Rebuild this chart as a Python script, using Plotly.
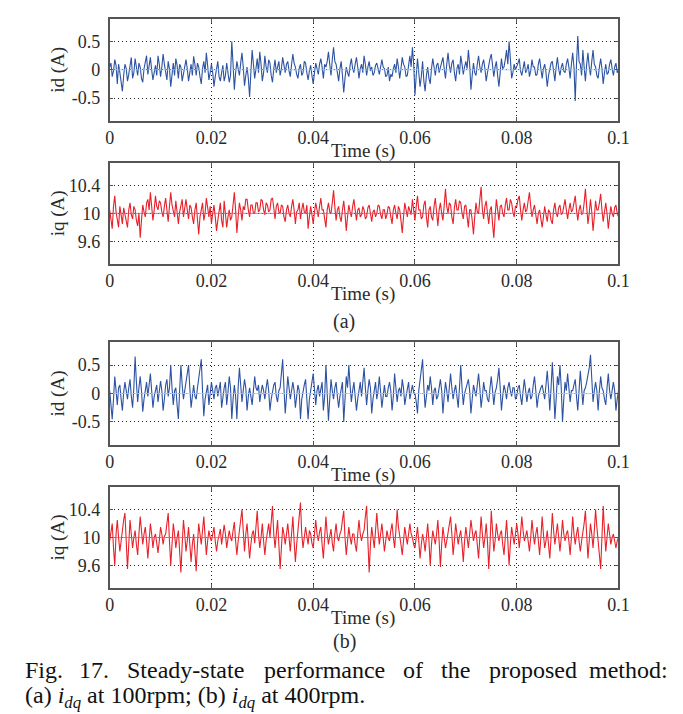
import plotly.graph_objects as go

W, H = 683, 714

# ---------------- data ----------------
sample_step = 0.00025
n_samples = 401
time_s = [round(i * sample_step, 5) for i in range(n_samples)]

x_tick_vals = [0, 0.02, 0.04, 0.06, 0.08, 0.1]
x_tick_text = ["0", "0.02", "0.04", "0.06", "0.08", "0.1"]
id_tick_vals = [-0.5, 0, 0.5]
id_tick_text = ["-0.5", "0", "0.5"]
iq_tick_vals = [9.6, 10, 10.4]
iq_tick_text = ["9.6", "10", "10.4"]

ref_time = [0, 0.1]
id_ref = [0, 0]
iq_ref = [10, 10]

id_100rpm = [
    0.05, 0.12, -0.12, -0.02, 0.18, 0.08, -0.25, 0.1, -0.05, -0.18, -0.38, -0.1, 0.1, 0.02, -0.2, -0.08, 0.12, 0.22, -0.15, -0.05,
    0.2, 0.05, -0.1, 0.12, 0.05, -0.15, -0.22, 0.02, 0.15, 0.25, -0.08, 0.1, 0.22, 0.0, -0.18, -0.05, 0.08, -0.1, 0.25, 0.1,
    -0.12, 0.05, 0.28, 0.1, -0.05, -0.18, 0.15, 0.02, -0.3, -0.05, 0.12, -0.1, 0.2, 0.08, -0.15, 0.1, 0.05, -0.2, -0.08, 0.1,
    0.18, 0.02, -0.2, -0.05, 0.1, -0.1, 0.24, 0.1, -0.1, 0.12, 0.05, -0.12, -0.25, 0.02, 0.15, -0.05, 0.3, 0.08, -0.18, -0.05,
    0.1, -0.05, -0.3, -0.12, 0.05, 0.15, -0.12, -0.2, -0.05, 0.08, -0.2, -0.1, 0.12, -0.05, -0.22, -0.1, 0.5, 0.1, -0.35, -0.05,
    0.15, 0.02, -0.1, 0.12, 0.3, 0.05, -0.28, -0.1, 0.05, -0.15, -0.48, -0.05, 0.35, 0.1, -0.15, 0.02, 0.2, -0.05, 0.32, 0.1,
    -0.2, -0.05, 0.25, 0.05, -0.05, 0.18, 0.12, -0.1, -0.22, 0.02, 0.18, -0.05, 0.05, 0.15, -0.1, 0.02, 0.22, 0.08, -0.05, 0.1,
    0.15, -0.02, -0.12, 0.1, 0.28, 0.12, 0.05, -0.08, -0.15, 0.02, 0.1, -0.1, -0.05, 0.15, 0.12, -0.05, -0.18, -0.02, 0.08, -0.1,
    -0.25, -0.05, 0.12, 0.02, -0.08, 0.1, 0.2, 0.05, -0.15, 0.1, 0.05, 0.15, 0.32, 0.1, -0.1, 0.18, 0.4, 0.15, 0.1, -0.05,
    -0.2, 0.02, 0.15, -0.1, -0.4, -0.15, 0.05, -0.05, -0.12, 0.08, 0.2, 0.02, -0.05, 0.1, 0.22, 0.05, -0.15, 0.02, 0.1, -0.05,
    0.25, 0.1, -0.1, 0.05, 0.15, -0.02, 0.05, -0.1, -0.05, 0.08, 0.12, 0.02, -0.08, 0.05, 0.18, 0.05, 0.02, -0.12, -0.1, 0.05,
    -0.2, -0.08, -0.12, 0.02, 0.1, -0.05, 0.2, 0.05, -0.15, 0.02, 0.22, 0.1, 0.05, -0.12, -0.1, 0.08, 0.25, 0.05, 0.4, 0.1,
    -0.45, -0.1, 0.2, -0.05, -0.3, -0.12, 0.15, -0.2, -0.38, -0.1, 0.05, -0.15, -0.25, 0.02, 0.2, 0.05, -0.1, 0.08, 0.12, -0.05,
    0.05, 0.15, 0.22, 0.02, -0.15, 0.1, 0.3, 0.08, -0.05, 0.12, 0.18, -0.05, -0.2, 0.02, 0.1, -0.08, 0.25, 0.1, -0.08, 0.05,
    0.15, 0.02, 0.35, 0.1, -0.35, -0.1, 0.12, -0.05, -0.1, 0.1, 0.25, 0.05, -0.05, 0.1, 0.18, 0.02, -0.2, -0.05, 0.1, 0.2,
    0.28, 0.05, -0.12, 0.05, 0.15, -0.1, -0.3, -0.05, 0.2, 0.02, 0.05, 0.18, 0.35, 0.1, 0.5, 0.2, -0.15, -0.05, 0.1, 0.0,
    0.05, 0.12, 0.2, -0.02, -0.1, 0.05, 0.15, -0.05, 0.0, 0.1, -0.12, -0.02, 0.18, 0.05, 0.05, -0.1, -0.08, 0.1, 0.2, 0.02,
    -0.15, 0.02, 0.1, -0.05, -0.3, -0.1, 0.05, 0.12, 0.15, -0.05, -0.2, 0.05, 0.22, 0.02, -0.1, 0.05, 0.12, -0.02, -0.05, 0.1,
    0.2, 0.05, -0.15, 0.1, 0.3, 0.05, -0.55, 0.1, 0.6, 0.15, 0.1, -0.1, 0.35, 0.05, -0.2, 0.1, 0.3, 0.05, -0.1, 0.15,
    0.35, 0.1, 0.05, -0.1, -0.15, 0.05, 0.2, 0.02, -0.25, -0.05, 0.1, -0.08, -0.05, 0.1, 0.18, 0.02, -0.1, 0.05, 0.12, -0.05,
    0.0,
]

iq_100rpm = [
    10.05, 9.92, 9.78, 10.1, 10.25, 10.02, 9.9, 9.8, 10.1, 9.95, 9.85, 10.08, 10.0, 9.88, 9.8, 10.05, 10.15, 9.98, 9.92, 10.1,
    10.05, 9.9, 9.82, 10.0, 9.65, 9.9, 10.12, 10.02, 9.95, 10.15, 10.2, 10.05, 10.3, 10.1, 9.9, 10.05, 10.25, 10.1, 10.05, 10.18,
    10.15, 10.02, 9.95, 10.1, 10.22, 10.05, 9.88, 10.1, 10.3, 10.12, 10.05, 9.95, 10.18, 10.05, 9.85, 10.02, 10.1, 10.2, 9.95, 10.1,
    10.2, 10.05, 9.92, 10.12, 10.08, 9.95, 9.85, 10.05, 10.15, 9.92, 9.7, 9.95, 10.05, 10.15, 9.9, 10.0, 10.22, 10.08, 9.95, 10.1,
    9.85, 10.0, 10.12, 9.95, 9.75, 9.9, 10.05, 10.15, 9.9, 9.8, 10.18, 10.02, 9.8, 9.95, 10.05, 9.9, 9.95, 10.12, 10.3, 10.05,
    9.72, 9.95, 10.15, 10.05, 9.9, 10.1, 10.05, 10.2, 10.2, 10.05, 9.95, 10.12, 10.12, 10.0, 10.0, 10.15, 10.15, 10.02, 10.05, 10.2,
    10.18, 10.05, 9.98, 10.15, 10.12, 10.02, 10.05, 10.2, 10.22, 10.08, 9.92, 10.1, 10.15, 10.02, 10.0, 10.12, 10.1, 9.95, 9.88, 10.05,
    10.12, 10.0, 9.95, 10.1, 10.2, 10.05, 9.85, 10.02, 10.05, 10.15, 9.92, 10.05, 10.15, 10.02, 10.0, 10.12, 9.78, 9.95, 10.1, 9.98,
    9.85, 10.02, 10.15, 10.05, 9.95, 10.1, 10.22, 10.05, 10.05, 9.92, 9.8, 10.05, 10.15, 10.02, 10.0, 10.15, 10.33, 10.1, 9.9, 10.05,
    10.1, 9.95, 9.88, 10.05, 10.18, 10.0, 9.75, 9.95, 10.12, 10.02, 9.95, 10.1, 10.2, 10.05, 9.9, 10.05, 10.08, 9.95, 9.98, 10.1,
    10.05, 9.92, 9.95, 10.08, 10.12, 10.0, 9.88, 10.02, 10.05, 9.95, 10.0, 10.12, 10.1, 9.98, 9.92, 10.05, 10.05, 9.92, 9.98, 10.1,
    10.08, 9.95, 9.85, 10.05, 10.12, 10.0, 9.92, 10.1, 10.05, 9.9, 9.72, 9.95, 10.15, 10.05, 9.95, 10.1, 10.05, 9.98, 10.2, 10.05,
    9.9, 10.1, 10.25, 10.05, 10.05, 9.92, 9.95, 10.12, 10.18, 9.95, 9.8, 10.05, 10.1, 9.95, 9.9, 10.1, 10.22, 10.02, 9.82, 10.05,
    10.15, 10.0, 9.9, 10.12, 10.35, 10.1, 10.0, 10.15, 10.12, 9.95, 9.85, 10.08, 10.2, 10.05, 10.05, 10.18, 10.15, 10.0, 9.92, 10.1,
    10.12, 9.95, 9.8, 10.05, 10.05, 9.9, 9.7, 9.95, 10.15, 10.02, 10.0, 10.2, 10.38, 10.05, 9.92, 10.1, 10.18, 10.0, 9.85, 10.05,
    10.1, 9.85, 9.65, 9.95, 10.2, 10.05, 9.9, 10.1, 10.12, 10.0, 9.95, 10.12, 10.22, 10.05, 10.05, 10.2, 10.15, 10.02, 9.95, 10.1,
    10.1, 10.2, 10.25, 10.05, 9.9, 10.05, 10.15, 10.02, 10.05, 10.18, 10.3, 10.1, 9.95, 10.05, 10.12, 9.98, 9.85, 10.0, 10.05, 9.92,
    9.8, 9.95, 10.1, 9.98, 9.88, 10.05, 10.02, 9.9, 9.85, 10.05, 10.15, 10.0, 9.95, 10.08, 10.12, 9.98, 10.0, 10.1, 10.2, 10.05,
    9.92, 10.05, 10.15, 10.02, 10.05, 10.15, 10.25, 10.05, 9.9, 10.05, 10.12, 9.98, 10.0, 10.15, 10.35, 10.1, 9.85, 10.0, 10.2, 10.02,
    9.75, 9.95, 10.18, 10.05, 10.05, 10.15, 10.28, 10.05, 9.88, 10.02, 10.15, 10.0, 9.78, 9.95, 10.1, 10.0, 9.95, 10.08, 10.12, 10.0,
    9.95,
]

id_400rpm = [
    0.05, -0.2, -0.45, -0.1, 0.3, 0.05, -0.2, 0.1, 0.15, -0.1, -0.3, 0.02, 0.2, 0.05, -0.1, 0.1, 0.25, -0.05, -0.25, 0.1,
    0.65, 0.2, -0.15, 0.1, 0.3, 0.05, -0.32, -0.1, 0.1, 0.2, -0.05, 0.15, 0.35, 0.05, -0.25, -0.05, 0.05, 0.15, -0.15, 0.02,
    0.22, 0.05, -0.3, -0.1, 0.15, 0.25, -0.05, 0.1, 0.5, 0.1, -0.2, 0.05, 0.1, -0.2, -0.45, 0.05, 0.5, 0.15, -0.1, 0.05,
    0.2, 0.35, 0.5, 0.1, -0.25, -0.05, 0.15, -0.05, -0.1, 0.1, 0.3, 0.45, 0.6, 0.05, -0.4, -0.1, 0.05, 0.15, -0.2, 0.0,
    0.2, 0.05, -0.1, 0.1, 0.15, -0.05, 0.05, 0.2, -0.25, -0.05, 0.1, 0.2, -0.2, 0.02, 0.3, 0.1, -0.45, -0.1, 0.15, -0.05,
    -0.45, 0.1, 0.45, 0.15, -0.15, 0.05, 0.25, 0.1, -0.3, -0.05, 0.1, -0.05, -0.2, 0.05, 0.3, 0.1, 0.05, 0.15, -0.15, 0.02,
    0.15, 0.05, -0.1, 0.1, 0.25, 0.05, -0.3, -0.1, 0.05, 0.15, 0.2, -0.05, -0.15, 0.05, 0.1, 0.3, 0.6, 0.1, -0.35, -0.05,
    0.3, 0.1, -0.1, 0.05, 0.2, 0.05, -0.25, -0.05, 0.15, 0.05, -0.45, -0.1, 0.05, 0.15, 0.25, -0.05, -0.45, -0.1, 0.1, 0.2,
    0.35, 0.05, -0.2, 0.05, 0.15, -0.05, 0.05, 0.2, -0.3, -0.05, 0.5, 0.1, -0.48, -0.1, 0.25, 0.05, -0.1, 0.1, 0.2, -0.05,
    -0.25, -0.05, 0.1, 0.2, -0.5, -0.1, 0.3, 0.1, 0.5, 0.15, -0.15, 0.05, 0.2, -0.05, -0.3, -0.1, 0.1, 0.2, -0.05, 0.15,
    0.45, 0.1, -0.2, 0.05, 0.25, 0.1, -0.35, -0.1, 0.1, 0.2, -0.1, 0.05, 0.3, 0.05, -0.25, -0.05, 0.15, -0.05, -0.05, 0.1,
    0.2, 0.05, -0.3, -0.05, 0.35, 0.1, -0.15, 0.05, 0.1, -0.05, 0.25, 0.1, -0.2, -0.05, 0.05, 0.2, -0.1, 0.05, 0.15, 0.02,
    0.0, -0.15, -0.35, 0.05, 0.25, 0.4, 0.6, 0.1, -0.25, -0.05, 0.15, 0.05, 0.3, 0.1, -0.2, 0.05, 0.1, -0.1, -0.05, 0.1,
    0.25, 0.05, -0.35, -0.05, 0.2, 0.05, -0.15, 0.1, 0.35, 0.1, -0.1, 0.05, 0.15, -0.05, -0.25, 0.1, 0.5, 0.1, -0.2, 0.0,
    0.1, 0.2, 0.25, 0.05, -0.35, -0.1, 0.15, 0.05, -0.05, 0.15, 0.35, 0.1, -0.25, -0.05, 0.2, 0.05, 0.05, -0.1, -0.15, 0.1,
    0.3, 0.05, -0.2, 0.02, 0.1, 0.25, 0.45, 0.1, -0.3, -0.05, 0.15, 0.05, -0.1, 0.1, 0.2, 0.05, -0.05, 0.1, 0.1, -0.1,
    -0.05, 0.1, 0.15, -0.05, -0.2, 0.05, 0.25, 0.05, -0.15, 0.02, 0.1, -0.1, -0.05, 0.15, 0.3, 0.05, -0.25, -0.05, 0.05, 0.1,
    0.15, 0.02, -0.1, 0.15, 0.4, 0.1, -0.3, 0.1, 0.55, 0.1, -0.45, -0.1, 0.3, 0.15, 0.5, 0.1, -0.5, -0.1, 0.2, 0.05,
    0.35, 0.1, -0.15, 0.05, 0.05, 0.15, 0.25, -0.05, -0.3, 0.05, 0.4, 0.1, -0.2, 0.05, 0.1, 0.2, 0.3, 0.45, 0.68, 0.1,
    -0.15, 0.05, 0.2, 0.05, -0.3, 0.05, 0.3, 0.1, 0.05, -0.1, -0.2, 0.1, 0.35, 0.05, -0.1, 0.05, 0.2, 0.05, -0.3, -0.1,
    0.05,
]

iq_400rpm = [
    9.95, 10.1, 10.2, 9.85, 9.6, 10.05, 10.25, 10.0, 9.8, 9.95, 10.15, 10.25, 10.35, 9.9, 9.55, 9.9, 10.25, 10.05, 9.85, 10.0,
    10.1, 9.9, 9.75, 10.05, 10.3, 10.1, 9.9, 10.05, 10.15, 9.95, 9.7, 9.95, 10.2, 10.05, 9.85, 10.0, 10.05, 9.92, 9.78, 9.95,
    10.15, 10.05, 9.9, 10.02, 10.05, 10.2, 10.35, 9.95, 9.6, 9.9, 10.2, 10.05, 9.85, 10.0, 10.1, 9.8, 9.5, 9.9, 10.25, 10.05,
    9.8, 9.95, 10.15, 9.9, 9.65, 9.9, 10.05, 9.8, 9.52, 9.9, 10.2, 10.05, 9.9, 10.1, 10.3, 10.02, 9.75, 9.95, 10.1, 10.0,
    9.95, 10.05, 10.15, 9.95, 9.8, 9.95, 10.05, 10.12, 9.9, 10.02, 10.18, 10.05, 9.85, 9.98, 10.1, 10.0, 9.95, 10.1, 10.22, 9.95,
    9.75, 9.95, 10.15, 10.25, 10.4, 10.0, 9.8, 10.05, 10.2, 9.95, 9.7, 9.9, 10.05, 10.1, 9.92, 10.15, 10.38, 10.05, 9.85, 10.0,
    10.2, 9.95, 9.75, 9.95, 10.1, 10.2, 10.0, 10.2, 10.45, 10.05, 9.85, 10.05, 10.25, 9.9, 9.55, 9.85, 10.15, 10.05, 9.9, 10.05,
    10.2, 10.0, 9.8, 10.05, 10.3, 9.95, 9.65, 9.9, 10.1, 10.3, 10.5, 10.05, 9.85, 10.0, 10.15, 10.02, 9.9, 10.1, 10.05, 9.92,
    9.85, 10.05, 10.25, 10.05, 9.95, 10.08, 10.15, 9.9, 9.7, 10.0, 10.3, 10.05, 9.9, 10.02, 10.12, 9.92, 9.8, 10.05, 10.2, 10.0,
    9.95, 10.05, 10.1, 10.25, 10.38, 10.0, 9.75, 9.95, 10.15, 10.0, 9.9, 10.05, 10.05, 9.9, 9.8, 10.05, 10.25, 10.05, 9.95, 10.05,
    10.1, 10.3, 10.45, 9.95, 9.5, 9.9, 10.15, 10.0, 9.85, 10.1, 10.35, 10.1, 9.9, 10.05, 10.2, 10.0, 9.8, 9.95, 10.1, 10.0,
    9.95, 10.1, 10.2, 10.0, 9.85, 10.1, 10.4, 10.15, 10.05, 9.9, 9.75, 10.0, 10.15, 10.02, 9.9, 10.05, 10.2, 10.05, 10.0, 9.9,
    9.85, 10.0, 10.15, 9.95, 9.7, 9.9, 10.05, 9.95, 9.8, 10.0, 10.2, 9.95, 9.6, 9.9, 10.1, 10.0, 9.9, 10.05, 10.25, 9.95,
    9.58, 9.9, 10.15, 10.0, 9.85, 9.95, 10.05, 10.15, 10.3, 10.05, 9.75, 9.95, 10.2, 10.05, 9.9, 10.02, 10.1, 9.9, 9.65, 9.95,
    10.15, 10.0, 9.85, 10.05, 10.25, 10.1, 9.95, 10.05, 10.1, 9.9, 9.7, 10.0, 10.3, 10.05, 9.85, 10.0, 10.2, 9.95, 9.55, 9.9,
    10.38, 10.1, 9.8, 9.95, 10.2, 10.05, 9.95, 10.05, 10.1, 9.9, 9.75, 10.0, 10.25, 9.95, 9.6, 9.9, 10.15, 10.02, 9.9, 10.05,
    10.2, 10.05, 9.85, 10.05, 10.3, 10.1, 9.95, 10.02, 10.1, 9.95, 9.8, 10.0, 10.25, 10.05, 9.9, 10.05, 10.15, 9.95, 9.75, 10.0,
    10.3, 10.05, 9.85, 9.95, 10.1, 9.9, 9.7, 10.0, 10.35, 10.1, 9.9, 10.05, 10.2, 10.0, 9.8, 10.0, 10.25, 10.05, 9.95, 10.05,
    10.1, 9.95, 9.75, 10.0, 10.3, 10.05, 9.9, 10.05, 10.15, 9.95, 9.8, 9.95, 10.05, 10.2, 10.38, 10.0, 9.7, 9.95, 10.2, 10.05,
    9.85, 10.1, 10.4, 10.15, 9.95, 9.75, 9.55, 10.0, 10.45, 10.1, 9.8, 10.0, 10.2, 10.05, 9.9, 10.0, 10.05, 9.95, 9.85, 9.95,
    10.0,
]

panel_series = [id_100rpm, iq_100rpm, id_400rpm, iq_400rpm]
panel_refs = [id_ref, iq_ref, id_ref, iq_ref]
panel_titles = ["id (A)", "iq (A)", "id (A)", "iq (A)"]

# ---------------- styling / layout ----------------
BLUE = "#2d52a2"
RED = "#e8202a"
REF_ID = "#9fd6ea"
REF_IQ = "#8a72c8"
FONT = "Liberation Serif"
TXT = "#2a2a2a"

ax_left, ax_right = 99, 620
panel_px = [(11, 112.7), (155, 255.7), (334.3, 436.7), (479, 580)]
y_ranges = [[-0.9, 0.9], [9.28, 10.72], [-0.9, 0.9], [9.28, 10.72]]
colors = [BLUE, RED, BLUE, RED]
ref_colors = [REF_ID, REF_IQ, REF_ID, REF_IQ]


def px_x(p):
    return p / W


def px_y(p):
    return 1 - p / H


fig = go.Figure()
layout = dict(
    width=W, height=H, autosize=False,
    margin=dict(l=0, r=0, t=0, b=0),
    paper_bgcolor="white", plot_bgcolor="white",
    showlegend=False,
    font=dict(family=FONT, color=TXT, size=18),
)

annotations = []
for k in range(4):
    xa = "x" if k == 0 else f"x{k+1}"
    ya = "y" if k == 0 else f"y{k+1}"
    fig.add_trace(go.Scatter(x=time_s, y=panel_series[k], mode="lines",
                             line=dict(color=colors[k], width=1.1),
                             xaxis=xa, yaxis=ya, hoverinfo="skip"))
    fig.add_trace(go.Scatter(x=ref_time, y=panel_refs[k], mode="lines",
                             line=dict(color=ref_colors[k], width=1),
                             opacity=0.8,
                             xaxis=xa, yaxis=ya, hoverinfo="skip"))
    top, bot = panel_px[k]
    xkey = "xaxis" if k == 0 else f"xaxis{k+1}"
    ykey = "yaxis" if k == 0 else f"yaxis{k+1}"
    layout[xkey] = dict(
        domain=[px_x(ax_left), px_x(ax_right)], anchor=ya,
        range=[0, 0.1], tickvals=x_tick_vals, ticktext=x_tick_text,
        showline=True, linecolor="#555555", linewidth=1.5, mirror="ticks",
        ticks="inside", ticklen=4, tickcolor="#555555",
        showgrid=True, gridcolor="#222222", griddash="1px,3px", gridwidth=1,
        zeroline=False, tickfont=dict(family=FONT, size=18, color=TXT),
        ticklabelstandoff=0,
    )
    tv = id_tick_vals if k % 2 == 0 else iq_tick_vals
    tt = id_tick_text if k % 2 == 0 else iq_tick_text
    layout[ykey] = dict(
        domain=[px_y(bot), px_y(top)], anchor=xa,
        range=y_ranges[k], tickvals=tv, ticktext=tt,
        showline=True, linecolor="#555555", linewidth=1.5, mirror="ticks",
        ticks="inside", ticklen=4, tickcolor="#555555",
        showgrid=True, gridcolor="#222222", griddash="1px,3px", gridwidth=1,
        zeroline=False, tickfont=dict(family=FONT, size=18, color=TXT),
        ticklabelstandoff=4,
    )
    # y-axis title
    annotations.append(dict(
        x=px_x(46), y=px_y((top + bot) / 2), xref="paper", yref="paper",
        text=panel_titles[k], textangle=-90, showarrow=False,
        font=dict(family=FONT, size=19, color=TXT),
        xanchor="center", yanchor="middle"))
    # x-axis title
    annotations.append(dict(
        x=px_x(358), y=px_y(bot + 30), xref="paper", yref="paper",
        text="Time (s)", showarrow=False,
        font=dict(family=FONT, size=19, color=TXT),
        xanchor="center", yanchor="middle"))

# sub-figure labels
annotations.append(dict(x=px_x(339), y=px_y(313), xref="paper", yref="paper",
                        text="(a)", showarrow=False,
                        font=dict(family=FONT, size=20, color=TXT),
                        xanchor="center", yanchor="middle"))
annotations.append(dict(x=px_x(339), y=px_y(633), xref="paper", yref="paper",
                        text="(b)", showarrow=False,
                        font=dict(family=FONT, size=20, color=TXT),
                        xanchor="center", yanchor="middle"))

# caption (line 1 justified word by word)
caption_words = ["Fig.", "17.", "Steady-state", "performance", "of", "the",
                 "proposed", "method:"]
caption_word_x = [10, 66, 115, 255, 397, 436, 485, 673]
for w, xp in zip(caption_words, caption_word_x):
    annotations.append(dict(
        x=px_x(xp), y=px_y(662), xref="paper", yref="paper", text=w,
        showarrow=False, font=dict(family=FONT, size=24, color="#111111"),
        xanchor="right" if w == "method:" else "left", yanchor="middle"))
annotations.append(dict(
    x=px_x(10), y=px_y(689), xref="paper", yref="paper",
    text="(a) <i>i</i><sub><i>dq</i></sub> at 100rpm; (b) <i>i</i><sub><i>dq</i></sub> at 400rpm.",
    showarrow=False, font=dict(family=FONT, size=24, color="#111111"),
    xanchor="left", yanchor="middle"))

layout["annotations"] = annotations
fig.update_layout(**layout)
fig.write_html("out.html")
